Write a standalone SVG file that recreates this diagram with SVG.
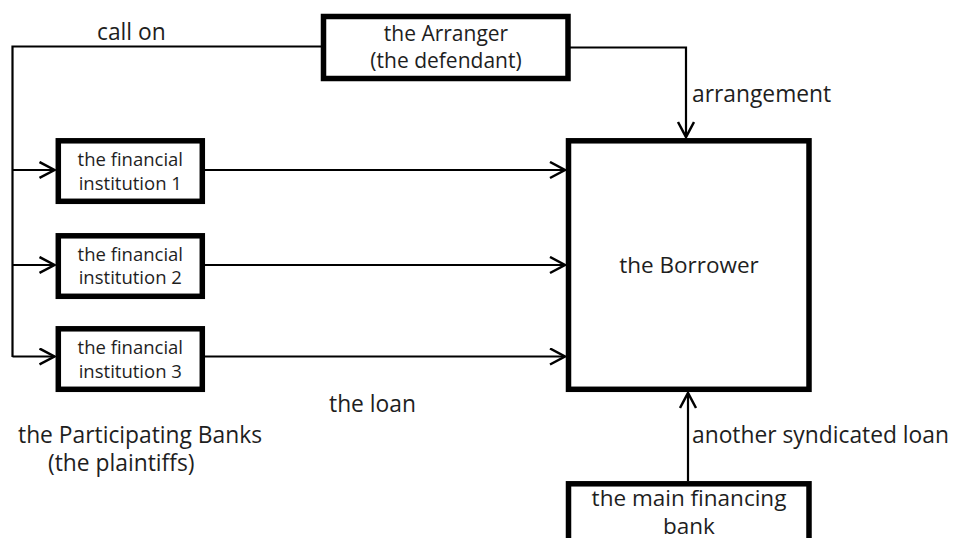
<svg xmlns="http://www.w3.org/2000/svg" width="953" height="538" viewBox="0 0 953 538">
  <style>
    .box { fill: #ffffff; stroke: #000000; stroke-width: 5.5; }
    .conn { fill: none; stroke: #000000; stroke-width: 2.2; }
    text { font-family: "Open Sans", "Liberation Sans", sans-serif; fill: #1e1e1e; }
    .lbl { font-size: 22.8px; }
    .arr { font-size: 21px; text-anchor: middle; }
    .fi { font-size: 18.5px; text-anchor: middle; }
    .big { font-size: 22.5px; text-anchor: middle; }
  </style>
  <defs>
    <marker id="ah" markerUnits="userSpaceOnUse" markerWidth="20" markerHeight="20" refX="16" refY="9" orient="auto">
      <path d="M1,1 L16,9 L1,17" fill="none" stroke="#000" stroke-width="2.5"/>
    </marker>
  </defs>
  <rect width="953" height="538" fill="#ffffff"/>

  <g id="connectors">
    <path class="conn" d="M12.5,357 V46.5 H321"/>
    <path class="conn" d="M570,47.5 H686 V137" marker-end="url(#ah)"/>
    <path class="conn" d="M12.5,170 H54.5" marker-end="url(#ah)"/>
    <path class="conn" d="M12.5,265 H54.5" marker-end="url(#ah)"/>
    <path class="conn" d="M12.5,356.5 H54.5" marker-end="url(#ah)"/>
    <path class="conn" d="M205,170 H565" marker-end="url(#ah)"/>
    <path class="conn" d="M205,265 H565" marker-end="url(#ah)"/>
    <path class="conn" d="M205,356.5 H565" marker-end="url(#ah)"/>
    <path class="conn" d="M688,481 V393" marker-end="url(#ah)"/>
  </g>

  <g id="arranger">
    <rect class="box" x="323.5" y="16.5" width="244.5" height="62"/>
    <text class="arr" x="446" y="41">the Arranger</text>
    <text class="arr" x="446" y="68">(the defendant)</text>
  </g>

  <g id="fi1">
    <rect class="box" x="58.3" y="140.8" width="144" height="60.5"/>
    <text class="fi" x="130.3" y="166">the financial</text>
    <text class="fi" x="130.3" y="190">institution 1</text>
  </g>
  <g id="fi2">
    <rect class="box" x="58.3" y="235.8" width="144" height="60.5"/>
    <text class="fi" x="130.3" y="260.5">the financial</text>
    <text class="fi" x="130.3" y="284">institution 2</text>
  </g>
  <g id="fi3">
    <rect class="box" x="58.3" y="328.8" width="144" height="60.5"/>
    <text class="fi" x="130.3" y="353.5">the financial</text>
    <text class="fi" x="130.3" y="377.5">institution 3</text>
  </g>

  <g id="borrower">
    <rect class="box" x="568.5" y="140.8" width="240.5" height="248.5"/>
    <text class="big" x="689" y="273">the Borrower</text>
  </g>

  <g id="main-bank">
    <rect class="box" x="568.5" y="483.8" width="240.5" height="80"/>
    <text class="big" x="689" y="506">the main financing</text>
    <text class="big" x="689" y="533.5">bank</text>
  </g>

  <g id="labels">
    <text class="lbl" x="97" y="40">call on</text>
    <text class="lbl" x="692" y="101.5">arrangement</text>
    <text class="lbl" x="329" y="412">the loan</text>
    <text class="lbl" x="692" y="443">another syndicated loan</text>
    <text class="lbl" x="18" y="443">the Participating Banks</text>
    <text class="lbl" x="48" y="471">(the plaintiffs)</text>
  </g>
</svg>
